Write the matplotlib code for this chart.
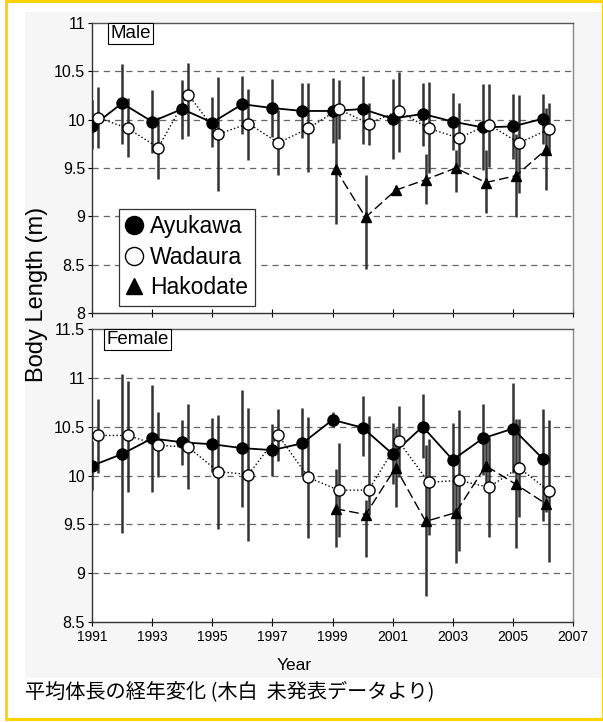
import numpy as np
import matplotlib.pyplot as plt
from matplotlib.patches import Rectangle
from matplotlib.lines import Line2D

plt.rcParams['font.family'] = ['Liberation Sans', 'Noto Sans CJK JP']

years = np.arange(1991, 2007)
hako_years = np.arange(1999, 2007)

# Male (平均, 下端, 上端)
male_ayu = [9.93, 10.17, 9.98, 10.11, 9.97, 10.16, 10.12, 10.09, 10.09, 10.11, 10.01, 10.06, 9.98, 9.92, 9.93, 10.01]
male_ayu_lo = [9.70, 9.75, 9.66, 9.80, 9.72, 9.85, 9.82, 9.81, 9.76, 9.75, 9.59, 9.73, 9.69, 9.48, 9.59, 9.75]
male_ayu_hi = [10.20, 10.58, 10.31, 10.41, 10.23, 10.45, 10.42, 10.38, 10.43, 10.45, 10.42, 10.38, 10.28, 10.37, 10.27, 10.27]
male_wad = [10.02, 9.91, 9.71, 10.26, 9.85, 9.96, 9.76, 9.91, 10.11, 9.96, 10.09, 9.91, 9.81, 9.95, 9.76, 9.90]
male_wad_lo = [9.71, 9.61, 9.39, 9.83, 9.26, 9.58, 9.43, 9.46, 9.80, 9.74, 9.67, 9.45, 9.51, 9.51, 9.24, 9.65]
male_wad_hi = [10.34, 10.22, 10.03, 10.59, 10.44, 10.32, 10.10, 10.38, 10.41, 10.17, 10.49, 10.39, 10.17, 10.37, 10.26, 10.17]
male_hak = [9.49, 8.99, 9.27, 9.38, 9.50, 9.35, 9.42, 9.69]
male_hak_lo = [8.92, 8.46, 9.27, 9.13, 9.25, 9.03, 8.99, 9.27]
male_hak_hi = [10.05, 9.43, 9.27, 9.64, 9.69, 9.69, 9.85, 10.12]

# Female
fem_ayu = [10.10, 10.22, 10.38, 10.34, 10.32, 10.28, 10.26, 10.33, 10.57, 10.49, 10.22, 10.50, 10.16, 10.38, 10.48, 10.17]
fem_ayu_lo = [9.85, 9.41, 9.83, 10.11, 10.04, 9.68, 9.99, 9.99, 10.50, 10.20, 9.91, 10.18, 9.60, 10.01, 10.03, 9.53]
fem_ayu_hi = [10.35, 11.04, 10.93, 10.57, 10.59, 10.88, 10.53, 10.69, 10.65, 10.81, 10.54, 10.83, 10.54, 10.73, 10.95, 10.68]
fem_wad = [10.41, 10.41, 10.31, 10.29, 10.04, 10.01, 10.41, 9.98, 9.85, 9.85, 10.35, 9.93, 9.95, 9.88, 10.08, 9.84]
fem_wad_lo = [10.03, 9.83, 9.98, 9.86, 9.45, 9.33, 10.15, 9.36, 9.37, 9.60, 9.98, 9.39, 9.23, 9.37, 9.58, 9.11]
fem_wad_hi = [10.78, 10.97, 10.65, 10.73, 10.62, 10.69, 10.68, 10.60, 10.33, 10.61, 10.71, 10.37, 10.67, 10.39, 10.58, 10.57]
fem_hak = [9.66, 9.60, 10.08, 9.53, 9.62, 10.10, 9.91, 9.71]
fem_hak_lo = [9.27, 9.17, 9.68, 8.77, 9.10, 9.85, 9.26, 9.63]
fem_hak_hi = [10.07, 9.75, 10.49, 10.31, 10.01, 10.35, 10.58, 9.80]

fig = plt.figure(figsize=(6.03, 7.22), dpi=100)

# 背景と黄色い枠
fig.patches.append(Rectangle((25/603, 1-678/722), 578/603, 666/722, transform=fig.transFigure,
                             facecolor='#f6f6f6', edgecolor='none', zorder=-10))
fig.patches.append(Rectangle((6/603, 1-719/722), 597/603, 718/722, transform=fig.transFigure,
                             facecolor='none', edgecolor='#FFD200', linewidth=2.2, zorder=10))

ax1 = fig.add_axes([92/603, 1-313/722, 481/603, 290/722])
ax2 = fig.add_axes([92/603, 1-622/722, 481/603, 293/722])


def draw(ax, ayu, ayu_lo, ayu_hi, wad, wad_lo, wad_hi, hak, hak_lo, hak_hi):
    series = [
        (years, ayu, ayu_lo, ayu_hi, dict(marker='o', mfc='black', mec='black', ms=8, ls='-', lw=1.3)),
        (years + 0.2, wad, wad_lo, wad_hi, dict(marker='o', mfc='white', mec='black', ms=8, ls=':', lw=1.0)),
        (hako_years + 0.1, hak, hak_lo, hak_hi, dict(marker='^', mfc='black', mec='black', ms=7, ls=(0, (7, 3)), lw=1.0)),
    ]
    for x, m, lo, hi, st in series:
        m = np.array(m)
        err = [m - np.array(lo), np.array(hi) - m]
        ax.errorbar(x, m, yerr=err, fmt='none', ecolor='#333333', elinewidth=1.8, capsize=0, zorder=2)
    for i, (x, m, lo, hi, st) in enumerate(series):
        ax.plot(x, m, color='black', zorder=4 + i, **st)
    ax.set_xlim(1991, 2007)
    ax.set_xticks(np.arange(1991, 2008, 2))
    ax.tick_params(axis='x', direction='inout', length=6, labelsize=10, pad=3)
    ax.tick_params(axis='y', direction='out', length=3, labelsize=11.5, pad=2)
    for s in ax.spines.values():
        s.set_color('#333333')
        s.set_linewidth(1.0)
    ax.spines['right'].set_color('#888888')
    ax.spines['top'].set_color('#555555')


draw(ax1, male_ayu, male_ayu_lo, male_ayu_hi, male_wad, male_wad_lo, male_wad_hi,
     male_hak, male_hak_lo, male_hak_hi)
draw(ax2, fem_ayu, fem_ayu_lo, fem_ayu_hi, fem_wad, fem_wad_lo, fem_wad_hi,
     fem_hak, fem_hak_lo, fem_hak_hi)

ax1.set_ylim(8, 11)
ax1.set_yticks(np.arange(8, 11.01, 0.5))
ax1.set_yticklabels(['8', '8.5', '9', '9.5', '10', '10.5', '11'])
ax1.set_xticklabels([])
for g in np.arange(8.5, 11, 0.5):
    ax1.axhline(g, color='#666666', lw=0.9, ls=(0, (5, 4)), zorder=1)

ax2.set_ylim(8.5, 11.5)
ax2.set_yticks(np.arange(8.5, 11.51, 0.5))
ax2.set_yticklabels(['8.5', '9', '9.5', '10', '10.5', '11', '11.5'])
for g in np.arange(9, 11.5, 0.5):
    ax2.axhline(g, color='#666666', lw=0.9, ls=(0, (5, 4)), zorder=1)

box = dict(boxstyle='square,pad=0.12', fc='white', ec='black', lw=0.8)
ax1.text(0.038, 0.993, 'Male', transform=ax1.transAxes, va='top', ha='left', fontsize=13.5, bbox=box, zorder=10)
ax2.text(0.03, 0.993, 'Female', transform=ax2.transAxes, va='top', ha='left', fontsize=13.5, bbox=box, zorder=10)

handles = [
    Line2D([], [], marker='o', ls='none', mfc='black', mec='black', ms=13),
    Line2D([], [], marker='o', ls='none', mfc='white', mec='black', ms=13),
    Line2D([], [], marker='^', ls='none', mfc='black', mec='black', ms=12),
]
leg = ax1.legend(handles, ['Ayukawa', 'Wadaura', 'Hakodate'], loc='lower left',
                 bbox_to_anchor=(0.056, 0.024), fontsize=16.5, frameon=True, fancybox=False,
                 edgecolor='#333333', framealpha=1, borderpad=0.3, labelspacing=0.32,
                 handlelength=0.7, handletextpad=0.35, borderaxespad=0)
leg.get_frame().set_linewidth(0.9)
leg.set_zorder(20)

fig.text(37/603, 1-294/722, 'Body Length (m)', rotation=90, ha='center', va='center', fontsize=17)
fig.text(294/603, 1-665/722, 'Year', ha='center', va='center', fontsize=12.5)
fig.text(25/603, 1-692/722, '平均体長の経年変化 (木白  未発表データより)', ha='left', va='center',
         fontsize=14.5, family=['Noto Sans CJK JP', 'DejaVu Sans'])

fig.savefig('out.png', dpi=100)
